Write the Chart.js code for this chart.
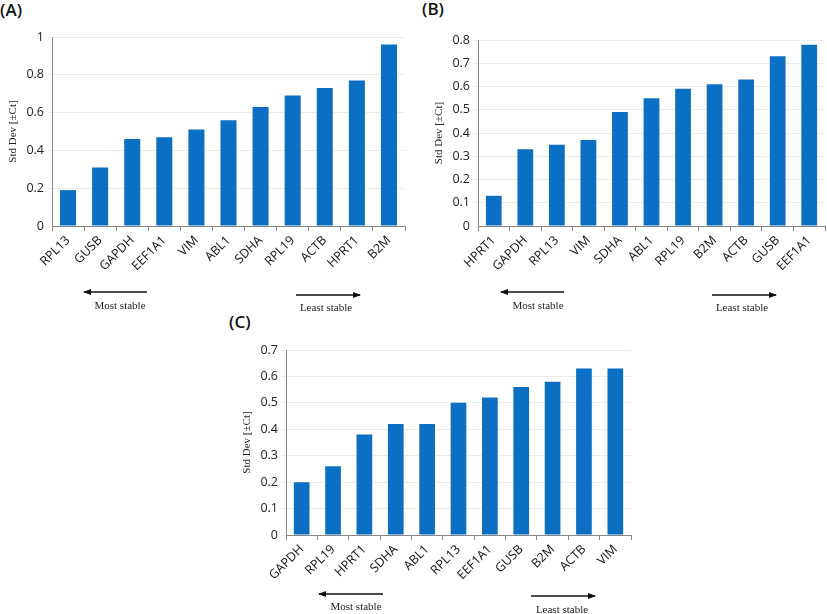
<!DOCTYPE html>
<html>
<head>
<meta charset="utf-8">
<script src="https://cdn.jsdelivr.net/npm/chart.js@4.4.0/dist/chart.umd.min.js"></script>
<style>
  body { margin: 0; background: #fff; width: 827px; height: 614px; position: relative; overflow: hidden; }
  canvas { position: absolute; }
  .panel { position: absolute; font: 600 17px "Open Sans", sans-serif; color: #111; }
  .note { position: absolute; font: 11px "Liberation Serif", serif; color: #222; transform: translateX(-50%); white-space: nowrap; }
  svg { position: absolute; left: 0; top: 0; }
</style>
</head>
<body>
<div class="panel" style="left:0px; top:-2px;">(A)</div>
<div class="panel" style="left:422px; top:-3px;">(B)</div>
<div class="panel" style="left:229px; top:310px;">(C)</div>

<canvas id="chartA" width="410" height="320" style="left:0; top:0;"></canvas>
<canvas id="chartB" width="417" height="320" style="left:410px; top:0;"></canvas>
<canvas id="chartC" width="440" height="314" style="left:200px; top:300px;"></canvas>

<svg width="827" height="614">
  <defs>
    <marker id="ah" markerWidth="8" markerHeight="6" refX="7" refY="3" orient="auto" markerUnits="userSpaceOnUse">
      <path d="M0,0 L8,3 L0,6 z" fill="#111"/>
    </marker>
  </defs>
  <g stroke="#111" stroke-width="1.5">
    <line x1="147" y1="292" x2="84" y2="292" marker-end="url(#ah)"/>
    <line x1="296" y1="295" x2="360" y2="295" marker-end="url(#ah)"/>
    <line x1="564" y1="292" x2="501" y2="292" marker-end="url(#ah)"/>
    <line x1="712" y1="295" x2="776" y2="295" marker-end="url(#ah)"/>
    <line x1="383" y1="594" x2="319" y2="594" marker-end="url(#ah)"/>
    <line x1="531" y1="596" x2="595" y2="596" marker-end="url(#ah)"/>
  </g>
</svg>
<div class="note" style="left:120px; top:299px;">Most stable</div>
<div class="note" style="left:326px; top:301px;">Least stable</div>
<div class="note" style="left:538px; top:299px;">Most stable</div>
<div class="note" style="left:742px; top:301px;">Least stable</div>
<div class="note" style="left:356px; top:600px;">Most stable</div>
<div class="note" style="left:562px; top:603px;">Least stable</div>

<script>
// Panel A
const genesA = ['RPL13', 'GUSB', 'GAPDH', 'EEF1A1', 'VIM', 'ABL1', 'SDHA', 'RPL19', 'ACTB', 'HPRT1', 'B2M'];
const sdA = [0.19, 0.31, 0.46, 0.47, 0.51, 0.56, 0.63, 0.69, 0.73, 0.77, 0.96];
// Panel B
const genesB = ['HPRT1', 'GAPDH', 'RPL13', 'VIM', 'SDHA', 'ABL1', 'RPL19', 'B2M', 'ACTB', 'GUSB', 'EEF1A1'];
const sdB = [0.13, 0.33, 0.35, 0.37, 0.49, 0.55, 0.59, 0.61, 0.63, 0.73, 0.78];
// Panel C
const genesC = ['GAPDH', 'RPL19', 'HPRT1', 'SDHA', 'ABL1', 'RPL13', 'EEF1A1', 'GUSB', 'B2M', 'ACTB', 'VIM'];
const sdC = [0.20, 0.26, 0.38, 0.42, 0.42, 0.50, 0.52, 0.56, 0.58, 0.63, 0.63];

const yTitle = 'Std Dev [\u00B1Ct]';

function drawPanel(id, labels, values, yMax, yStep, box) {
    return new Chart(document.getElementById(id), {
        type: 'bar',
        data: {
            labels: labels,
            datasets: [{
                data: values,
                backgroundColor: '#0B6FC3',
                barPercentage: 0.5,
                categoryPercentage: 1.0
            }]
        },
        options: {
            responsive: false,
            animation: false,
            layout: { padding: { left: box.left, right: box.right, top: box.top, bottom: 0 } },
            plugins: { legend: { display: false }, tooltip: { enabled: false } },
            scales: {
                x: {
                    grid: { drawOnChartArea: false, drawTicks: true, tickLength: 5, color: '#888' },
                    border: { color: '#888', width: 1 },
                    ticks: {
                        minRotation: 45, maxRotation: 45, padding: 2,
                        color: '#111',
                        font: { family: 'Open Sans', size: 12.5 }
                    },
                    afterFit: (s) => { s.height = box.xh; }
                },
                y: {
                    min: 0, max: yMax,
                    grid: { color: '#ececec', tickLength: 4, drawTicks: true },
                    border: { color: '#888', width: 1 },
                    ticks: {
                        stepSize: yStep, padding: 4,
                        color: '#222',
                        font: { family: 'Open Sans', size: 12.5 },
                        callback: (v) => +v.toFixed(1)
                    },
                    title: {
                        display: true, text: yTitle, color: '#222', padding: 0,
                        font: { family: 'Liberation Serif', size: 11 }
                    },
                    afterFit: (s) => { s.width = 45; }
                }
            }
        }
    });
}

drawPanel('chartA', genesA, sdA, 1, 0.2, { left: 7, right: 5, top: 37, xh: 94 });
drawPanel('chartB', genesB, sdB, 0.8, 0.1, { left: 23, right: 2, top: 40, xh: 94 });
drawPanel('chartC', genesC, sdC, 0.7, 0.1, { left: 41, right: 9, top: 50, xh: 79 });
</script>
</body>
</html>
